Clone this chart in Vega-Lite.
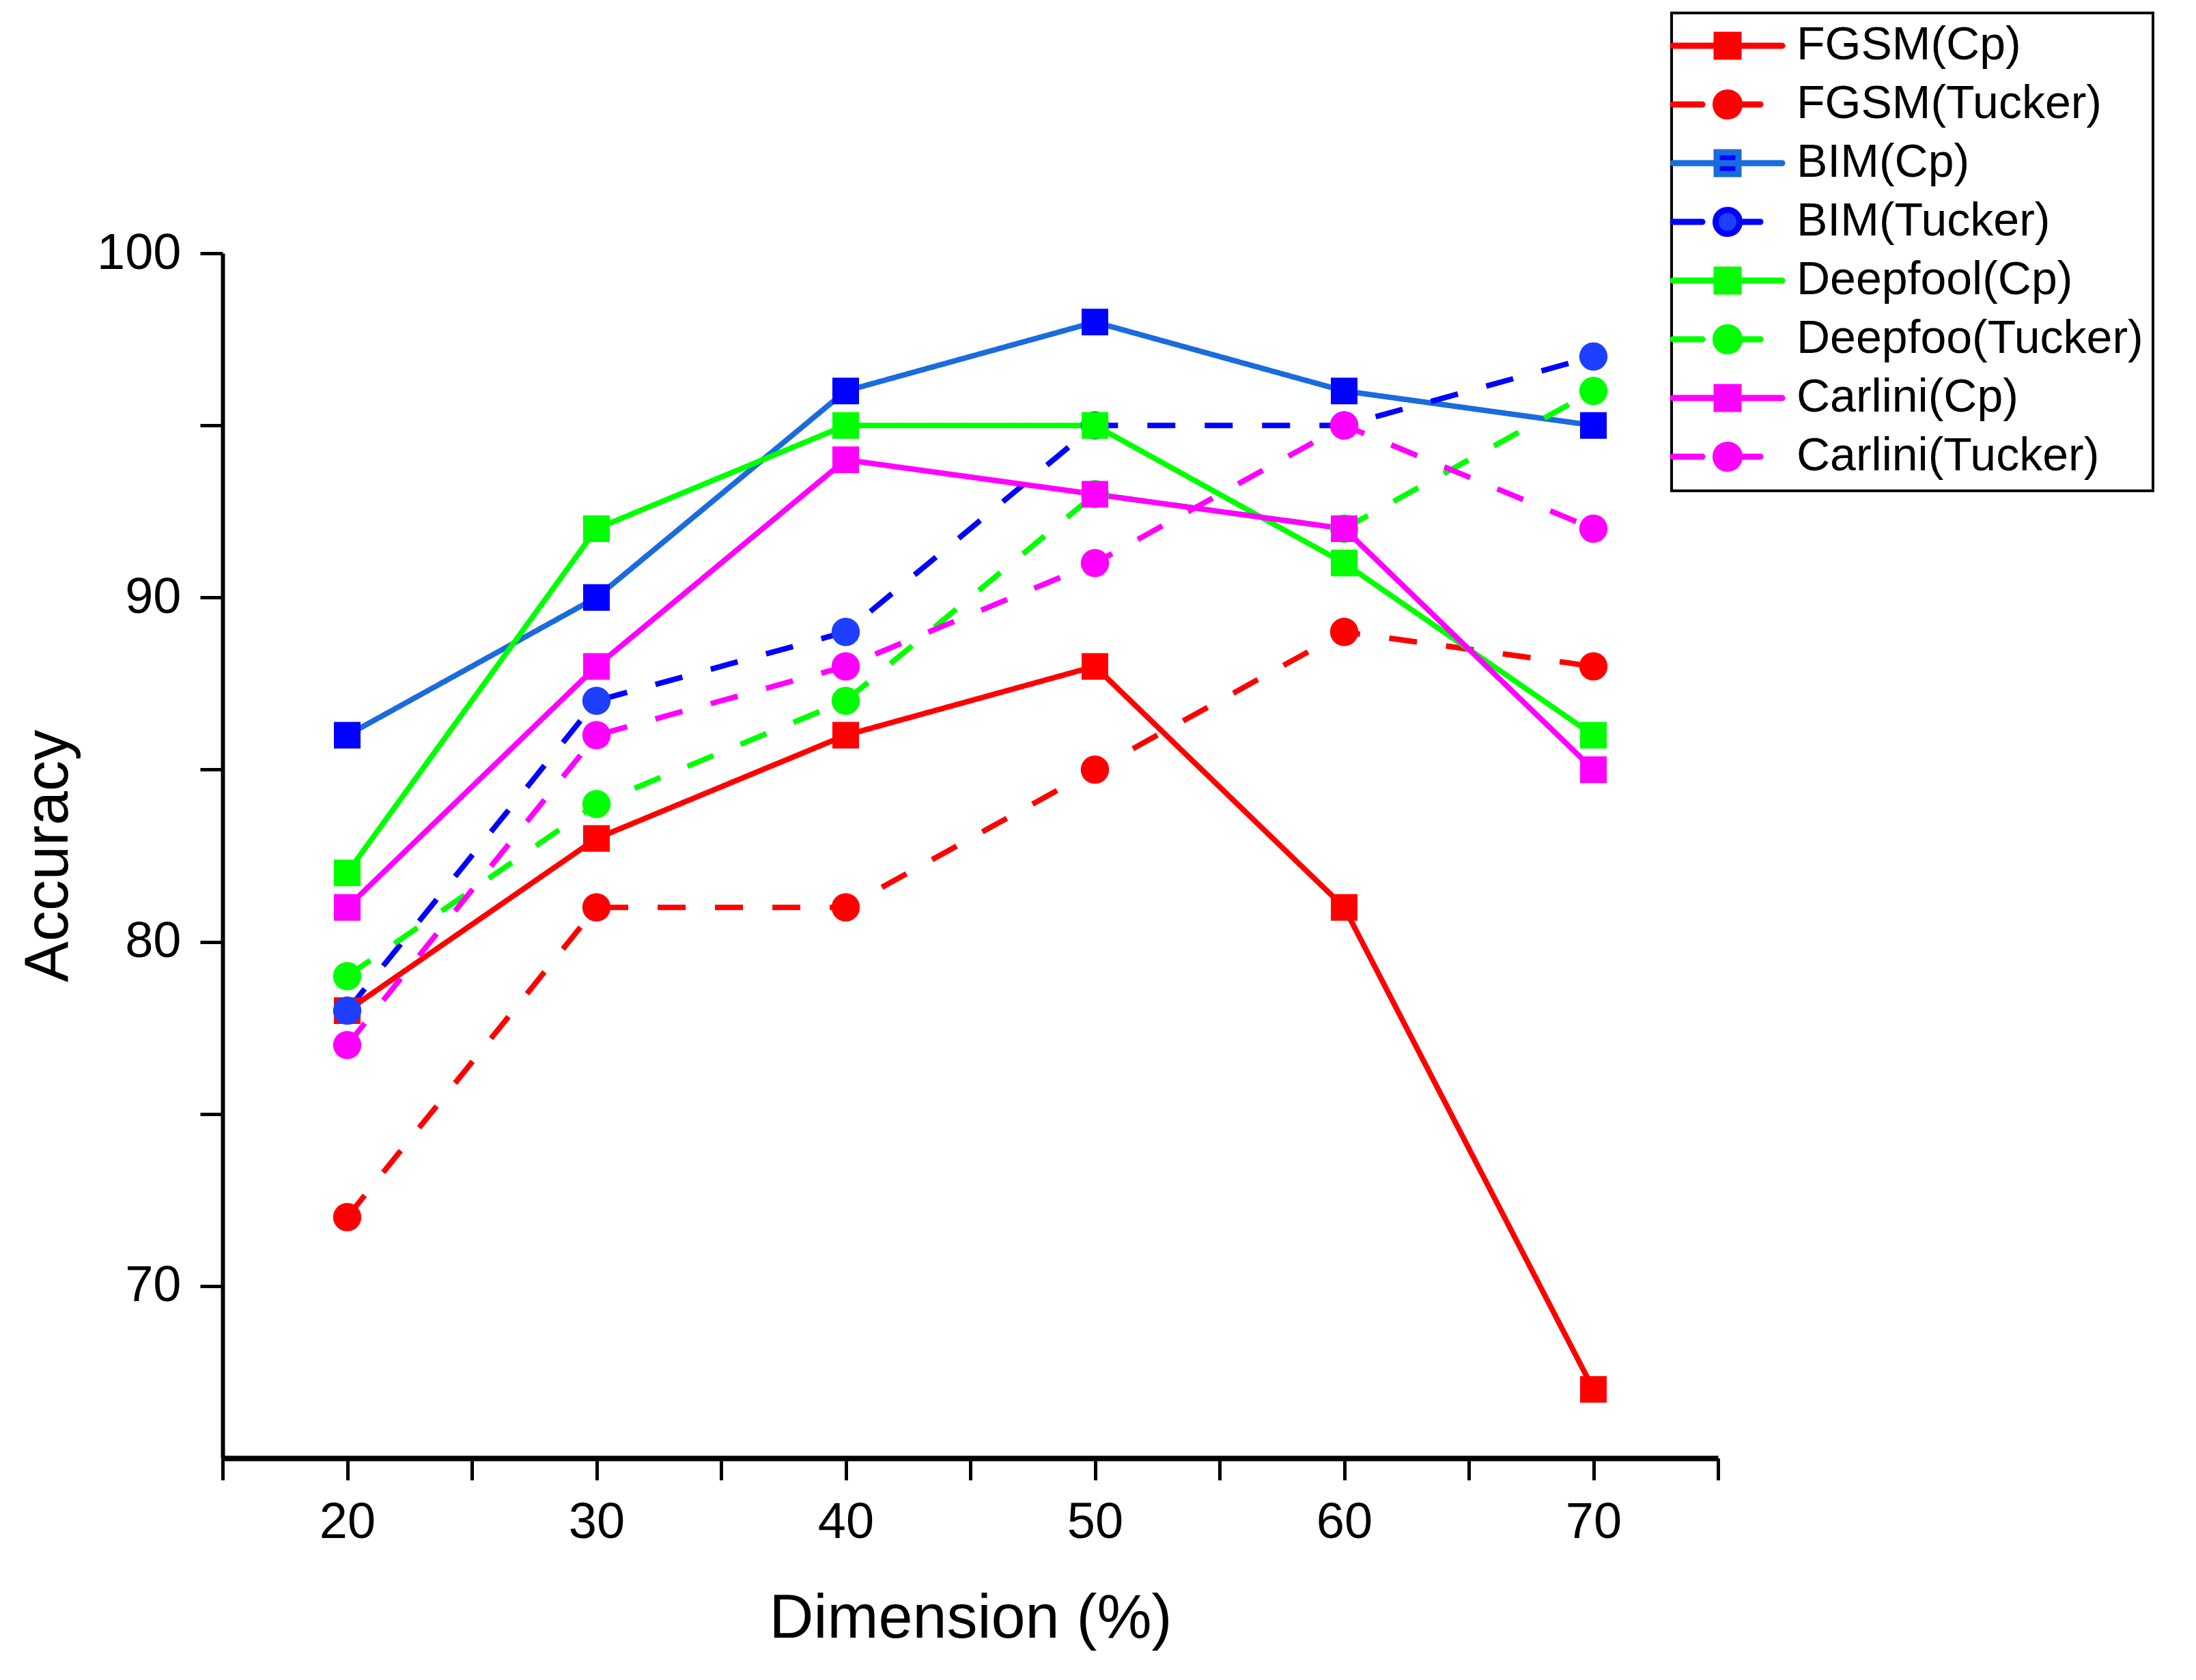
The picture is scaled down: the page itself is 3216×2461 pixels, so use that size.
{
  "$schema": "https://vega.github.io/schema/vega-lite/v6.json",
  "description": "Accuracy against dimension for FGSM, BIM, Deepfool and Carlini attacks, Cp and Tucker decompositions",
  "width": 2190,
  "height": 1765,
  "padding": {"left": 26, "top": 17, "right": 5, "bottom": 5},
  "background": "white",
  "data": {
    "values": [
      {"s": "FGSM(Cp)", "d": "Cp", "x": 20, "y": 78}, {"s": "FGSM(Cp)", "d": "Cp", "x": 30, "y": 83}, {"s": "FGSM(Cp)", "d": "Cp", "x": 40, "y": 86},
      {"s": "FGSM(Cp)", "d": "Cp", "x": 50, "y": 88}, {"s": "FGSM(Cp)", "d": "Cp", "x": 60, "y": 81}, {"s": "FGSM(Cp)", "d": "Cp", "x": 70, "y": 67},
      {"s": "FGSM(Tucker)", "d": "Tucker", "x": 20, "y": 72}, {"s": "FGSM(Tucker)", "d": "Tucker", "x": 30, "y": 81}, {"s": "FGSM(Tucker)", "d": "Tucker", "x": 40, "y": 81},
      {"s": "FGSM(Tucker)", "d": "Tucker", "x": 50, "y": 85}, {"s": "FGSM(Tucker)", "d": "Tucker", "x": 60, "y": 89}, {"s": "FGSM(Tucker)", "d": "Tucker", "x": 70, "y": 88},
      {"s": "BIM(Cp)", "d": "Cp", "x": 20, "y": 86}, {"s": "BIM(Cp)", "d": "Cp", "x": 30, "y": 90}, {"s": "BIM(Cp)", "d": "Cp", "x": 40, "y": 96},
      {"s": "BIM(Cp)", "d": "Cp", "x": 50, "y": 98}, {"s": "BIM(Cp)", "d": "Cp", "x": 60, "y": 96}, {"s": "BIM(Cp)", "d": "Cp", "x": 70, "y": 95},
      {"s": "BIM(Tucker)", "d": "Tucker", "x": 20, "y": 78}, {"s": "BIM(Tucker)", "d": "Tucker", "x": 30, "y": 87}, {"s": "BIM(Tucker)", "d": "Tucker", "x": 40, "y": 89},
      {"s": "BIM(Tucker)", "d": "Tucker", "x": 50, "y": 95}, {"s": "BIM(Tucker)", "d": "Tucker", "x": 60, "y": 95}, {"s": "BIM(Tucker)", "d": "Tucker", "x": 70, "y": 97},
      {"s": "Deepfool(Cp)", "d": "Cp", "x": 20, "y": 82}, {"s": "Deepfool(Cp)", "d": "Cp", "x": 30, "y": 92}, {"s": "Deepfool(Cp)", "d": "Cp", "x": 40, "y": 95},
      {"s": "Deepfool(Cp)", "d": "Cp", "x": 50, "y": 95}, {"s": "Deepfool(Cp)", "d": "Cp", "x": 60, "y": 91}, {"s": "Deepfool(Cp)", "d": "Cp", "x": 70, "y": 86},
      {"s": "Deepfoo(Tucker)", "d": "Tucker", "x": 20, "y": 79}, {"s": "Deepfoo(Tucker)", "d": "Tucker", "x": 30, "y": 84}, {"s": "Deepfoo(Tucker)", "d": "Tucker", "x": 40, "y": 87},
      {"s": "Deepfoo(Tucker)", "d": "Tucker", "x": 50, "y": 93}, {"s": "Deepfoo(Tucker)", "d": "Tucker", "x": 60, "y": 92}, {"s": "Deepfoo(Tucker)", "d": "Tucker", "x": 70, "y": 96},
      {"s": "Carlini(Cp)", "d": "Cp", "x": 20, "y": 81}, {"s": "Carlini(Cp)", "d": "Cp", "x": 30, "y": 88}, {"s": "Carlini(Cp)", "d": "Cp", "x": 40, "y": 94},
      {"s": "Carlini(Cp)", "d": "Cp", "x": 50, "y": 93}, {"s": "Carlini(Cp)", "d": "Cp", "x": 60, "y": 92}, {"s": "Carlini(Cp)", "d": "Cp", "x": 70, "y": 85},
      {"s": "Carlini(Tucker)", "d": "Tucker", "x": 20, "y": 77}, {"s": "Carlini(Tucker)", "d": "Tucker", "x": 30, "y": 86}, {"s": "Carlini(Tucker)", "d": "Tucker", "x": 40, "y": 88},
      {"s": "Carlini(Tucker)", "d": "Tucker", "x": 50, "y": 91}, {"s": "Carlini(Tucker)", "d": "Tucker", "x": 60, "y": 95}, {"s": "Carlini(Tucker)", "d": "Tucker", "x": 70, "y": 92}
    ]
  },
  "encoding": {
    "x": {
      "field": "x",
      "type": "quantitative",
      "title": "Dimension (%)",
      "scale": {"domain": [15, 75], "nice": false, "zero": false},
      "axis": {
        "values": [15, 20, 25, 30, 35, 40, 45, 50, 55, 60, 65, 70, 75],
        "labelExpr": "datum.value % 10 == 0 ? datum.label : ''",
        "tickSize": 32,
        "labelPadding": 26,
        "titlePadding": 60,
        "domainWidth": 8,
        "encode": {"ticks": {"update": {"y2": {"signal": "datum.value % 10 == 0 ? 32 : 14"}}}}
      }
    },
    "y": {
      "field": "y",
      "type": "quantitative",
      "title": "Accuracy",
      "scale": {"domain": [65, 100], "nice": false, "zero": false},
      "axis": {
        "values": [70, 75, 80, 85, 90, 95, 100],
        "labelExpr": "datum.value % 10 == 0 ? datum.label : ''",
        "tickSize": 33,
        "labelPadding": 28,
        "titlePadding": 24,
        "domainWidth": 6,
        "encode": {"ticks": {"update": {"x2": {"signal": "datum.value % 10 == 0 ? -33 : -16"}}}}
      }
    }
  },
  "layer": [
    {
      "mark": {"type": "line", "strokeWidth": 8},
      "encoding": {
        "stroke": {
          "field": "s",
          "type": "nominal",
          "scale": {
            "domain": ["FGSM(Cp)", "FGSM(Tucker)", "BIM(Cp)", "BIM(Tucker)", "Deepfool(Cp)", "Deepfoo(Tucker)", "Carlini(Cp)", "Carlini(Tucker)"],
            "range": ["#FF0000", "#FF0000", "#1A6BDE", "#0000FF", "#00FF00", "#00FF00", "#FF00FF", "#FF00FF"]
          },
          "legend": {
            "orient": "none",
            "legendX": 2122,
            "legendY": -352,
            "title": null,
            "labelFont": "Liberation Sans",
            "labelFontSize": 68,
            "labelColor": "black",
            "labelLimit": 0,
            "symbolSize": 1600,
            "symbolStrokeWidth": 9,
            "padding": 14,
            "rowPadding": 16,
            "symbolOffset": 34,
            "labelOffset": 67,
            "strokeColor": "black",
            "fillColor": "white",
            "encode": {
              "symbols": {
                "update": {
                  "shape": {"signal": "indexof(datum.value, 'Tucker') >= 0 ? 'M-4,0L-1.85,0M-0.88,0A0.88,0.88 0 1 1 0.88,0A0.88,0.88 0 1 1 -0.88,0ZM0.88,0L2.4,0' : 'M-4,0L4,0M-0.8,-0.8L0.8,-0.8L0.8,0.8L-0.8,0.8Z'"},
                  "fill": {"signal": "scale('fill', datum.value)"},
                  "strokeCap": {"value": "round"},
                  "opacity": {"value": 1}
                }
              }
            }
          }
        },
        "strokeDash": {
          "field": "d",
          "type": "nominal",
          "scale": {"domain": ["Cp", "Tucker"], "range": [[1, 0], [41, 43]]},
          "legend": null
        }
      }
    },
    {
      "mark": {"type": "point", "filled": true, "opacity": 1, "strokeWidth": 0, "size": 1521},
      "encoding": {
        "fill": {
          "field": "s",
          "type": "nominal",
          "scale": {
            "domain": ["FGSM(Cp)", "FGSM(Tucker)", "BIM(Cp)", "BIM(Tucker)", "Deepfool(Cp)", "Deepfoo(Tucker)", "Carlini(Cp)", "Carlini(Tucker)"],
            "range": ["#FF0000", "#FF0000", "#0000FF", "#1E3FFF", "#00FF00", "#00FF00", "#FF00FF", "#FF00FF"]
          },
          "legend": null
        },
        "shape": {
          "field": "d",
          "type": "nominal",
          "scale": {
            "domain": ["Cp", "Tucker"],
            "range": ["square", "M1.06,0A1.06,1.06 0 1 1 -1.06,0A1.06,1.06 0 1 1 1.06,0Z"]
          },
          "legend": null
        }
      }
    }
  ],
  "config": {
    "view": {"stroke": null},
    "font": "Liberation Sans",
    "legend": {"strokeWidth": 4},
    "axis": {
      "grid": false,
      "domainColor": "black",
      "tickColor": "black",
      "tickWidth": 5,
      "labelColor": "black",
      "titleColor": "black",
      "labelFont": "Liberation Sans",
      "titleFont": "Liberation Sans",
      "labelFontSize": 74,
      "titleFontSize": 90,
      "titleFontWeight": "normal"
    }
  }
}
